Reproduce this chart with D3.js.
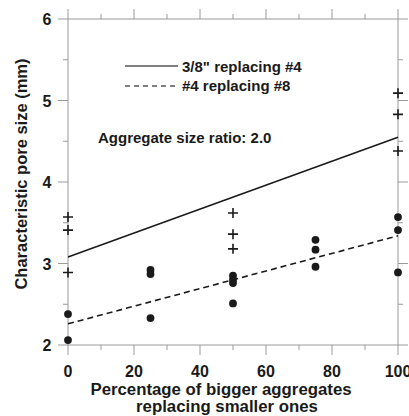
<!DOCTYPE html>
<html><head><meta charset="utf-8">
<script src="https://cdn.jsdelivr.net/npm/d3@7"></script>
<style>body{margin:0;background:#fff}svg{display:block}</style>
</head><body><svg width="409" height="416"></svg>
<script>
// pore size vs % of bigger aggregates, two replacement series
const crossX = [0, 0, 0, 50, 50, 50, 100, 100, 100];
const crossY = [3.57, 3.41, 2.89, 3.62, 3.36, 3.18, 5.09, 4.83, 4.38];
const dotX = [0, 0, 25, 25, 25, 50, 50, 50, 50, 75, 75, 75, 100, 100, 100];
const dotY = [2.38, 2.06, 2.92, 2.87, 2.33, 2.85, 2.80, 2.76, 2.51, 3.29, 3.17, 2.96, 3.57, 3.41, 2.89];
const fitSolid = [[0, 3.08], [100, 4.55]];
const fitDashed = [[0, 2.26], [100, 3.34]];
const xTicks = [0, 20, 40, 60, 80, 100];
const yTicks = [2, 3, 4, 5, 6];
const legend = ['3/8" replacing #4', '#4 replacing #8'];

const svg = d3.select('svg');
const font = '"Liberation Sans", Arial, sans-serif';
const x = d3.scaleLinear().domain([0, 100]).range([68, 398]);
const y = d3.scaleLinear().domain([2, 6]).range([345, 19]);
const axisCol = '#9a9a9a', ink = '#1a1a1a';

// frame + ticks (outward on all sides, minor at halves)
const frame = svg.append('g').attr('stroke', axisCol).attr('stroke-width', 1).attr('fill', 'none');
frame.append('rect').attr('x', x(0)).attr('y', y(6)).attr('width', x(100) - x(0)).attr('height', y(2) - y(6));
d3.range(0, 101, 10).forEach(v => {
  const len = v % 20 === 0 ? 10 : 5;
  frame.append('line').attr('x1', x(v)).attr('x2', x(v)).attr('y1', y(2)).attr('y2', y(2) + len);
  frame.append('line').attr('x1', x(v)).attr('x2', x(v)).attr('y1', y(6)).attr('y2', y(6) - len);
});
d3.range(2, 6.01, 0.5).forEach(v => {
  const len = Number.isInteger(v) ? 10 : 5;
  frame.append('line').attr('y1', y(v)).attr('y2', y(v)).attr('x1', x(0)).attr('x2', x(0) - len);
  frame.append('line').attr('y1', y(v)).attr('y2', y(v)).attr('x1', x(100)).attr('x2', x(100) + len);
});

const txt = (t, px, py, size, anchor) => svg.append('text').attr('x', px).attr('y', py)
  .attr('font-family', font).attr('font-weight', 'bold').attr('font-size', size)
  .attr('fill', ink).attr('text-anchor', anchor || 'middle').text(t);

xTicks.forEach(v => txt(v, x(v), 377, 16));
yTicks.forEach(v => txt(v, 47, y(v) + 6, 16));
txt('Percentage of bigger aggregates', 221, 395, 16.8);
txt('replacing smaller ones', 227, 412, 16.8);
txt('Characteristic pore size (mm)', 0, 0, 16.5).attr('transform', `translate(27,174) rotate(-90)`);

// fitted lines
const line = d3.line().x(d => x(d[0])).y(d => y(d[1]));
svg.append('path').attr('d', line(fitSolid)).attr('stroke', ink).attr('stroke-width', 1.6).attr('fill', 'none');
svg.append('path').attr('d', line(fitDashed)).attr('stroke', ink).attr('stroke-width', 1.6)
  .attr('stroke-dasharray', '6,4').attr('fill', 'none');

// markers
svg.selectAll('circle.d').data(dotX).enter().append('circle')
  .attr('cx', d => x(d)).attr('cy', (d, i) => y(dotY[i])).attr('r', 3.9).attr('fill', ink);
svg.selectAll('path.c').data(crossX).enter().append('path')
  .attr('d', (d, i) => { const cx = x(d), cy = y(crossY[i]); return `M${cx-5},${cy}H${cx+5}M${cx},${cy-5}V${cy+5}`; })
  .attr('stroke', ink).attr('stroke-width', 1.6);

// legend
svg.append('line').attr('x1', 125).attr('x2', 178).attr('y1', 66).attr('y2', 66).attr('stroke', '#555').attr('stroke-width', 1.6);
svg.append('line').attr('x1', 125).attr('x2', 178).attr('y1', 86).attr('y2', 86).attr('stroke', '#555').attr('stroke-width', 1.6).attr('stroke-dasharray', '5,4');
txt(legend[0], 182, 72, 15, 'start');
txt(legend[1], 182, 91, 15, 'start');
txt('Aggregate size ratio: 2.0', 98, 143, 15, 'start');
</script></body></html>
